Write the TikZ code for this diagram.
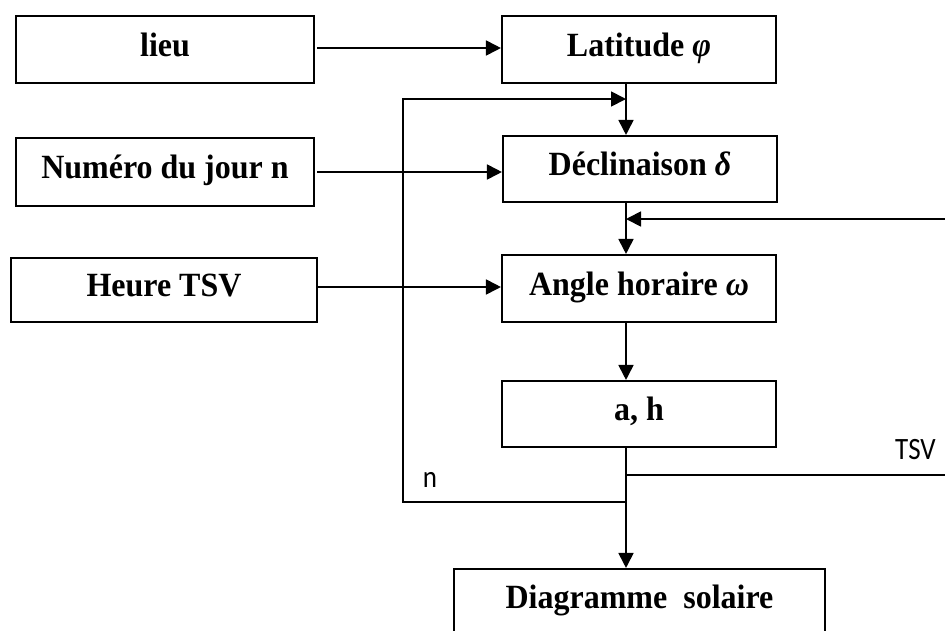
\documentclass[tikz,border=0pt]{standalone}
\usepackage{fontspec}
\setmainfont{Liberation Serif}
\newfontfamily\labfont{Carlito}
\usetikzlibrary{arrows.meta}
\newcommand{\tallbf}[1]{\scalebox{1}[1.06]{#1}}
\newcommand{\talllab}[1]{\scalebox{1}[1.15]{#1}}
\begin{document}
\begin{tikzpicture}[x=1pt,y=-1pt,
  box/.style={draw,line width=2.1pt,inner sep=0pt,text height=22pt,text depth=9pt,
    font=\fontsize{32}{38}\selectfont\bfseries},
  conn/.style={line width=1.8pt},
  arr/.style={conn,-{Triangle[length=15pt,width=15pt]}},
  lab/.style={font=\labfont\fontsize{27}{32}\selectfont,inner sep=0pt}]
\useasboundingbox (0,0) rectangle (945,630);
\node[box,minimum width=298pt,minimum height=67pt] (lieu) at (165,49.5) {\tallbf{lieu}};
\node[box,minimum width=274pt,minimum height=67pt] (lat) at (639,49.5) {\tallbf{Latitude \textit{φ}}};
\node[box,minimum width=298pt,minimum height=68pt] (num) at (165,172) {\tallbf{Numéro du jour n}};
\node[box,minimum width=274pt,minimum height=66pt] (dec) at (640,169) {\tallbf{Déclinaison \textit{δ}}};
\node[box,minimum width=306pt,minimum height=64pt] (heure) at (164,290) {\tallbf{Heure TSV}};
\node[box,minimum width=274pt,minimum height=67pt] (ang) at (639,288.5) {\tallbf{Angle horaire \textit{ω}}};
\node[box,minimum width=274pt,minimum height=66pt] (ah) at (639,414) {\tallbf{a, h}};
\node[box,minimum width=371pt,minimum height=72pt] (diag) at (639.5,605) {\raisebox{3.5pt}{\tallbf{Diagramme\ \ solaire}}};
\coordinate (vx) at (626,0);
\coordinate (fbtop) at (403,99);
\coordinate (fbbot) at (403,502);
\coordinate (fbjoin) at (626,502);
\coordinate (fbtip) at (626,99);
\coordinate (tsvend) at (945,475);
\coordinate (tsvjoin) at (626,475);
\coordinate (rin) at (945,219);
\coordinate (rtip) at (626,219);
\node[lab,anchor=south east] (tsvlab) at (936,460) {\talllab{TSV}};
\node[lab,anchor=south] (nlab) at (430,488) {\talllab{n}};
% horizontal inputs
\draw[arr] (lieu.east |- 0,48) ++(2,0) -- (lat.west |- 0,48);
\draw[arr] (num.east |- 0,172) ++(2,0) -- (dec.west |- 0,172);
\draw[arr] (heure.east |- 0,287) -- (ang.west |- 0,287);
% vertical chain
\draw[arr] (lat.south -| vx) -- (dec.north -| vx);
\draw[arr] (dec.south -| vx) -- (ang.north -| vx);
\draw[arr] (ang.south -| vx) -- (ah.north -| vx);
\draw[arr] (ah.south -| vx) -- (diag.north -| vx);
% feedback loop n
\draw[conn] (fbjoin) -- (fbbot) -- (fbtop) -- (fbtop -| 540,0);
\draw[arr] (fbtop) -- (fbtip);
% TSV loop
\draw[conn] (tsvjoin) -- (tsvend);
\draw[arr] (rin) -- (rtip);
\end{tikzpicture}
\end{document}
